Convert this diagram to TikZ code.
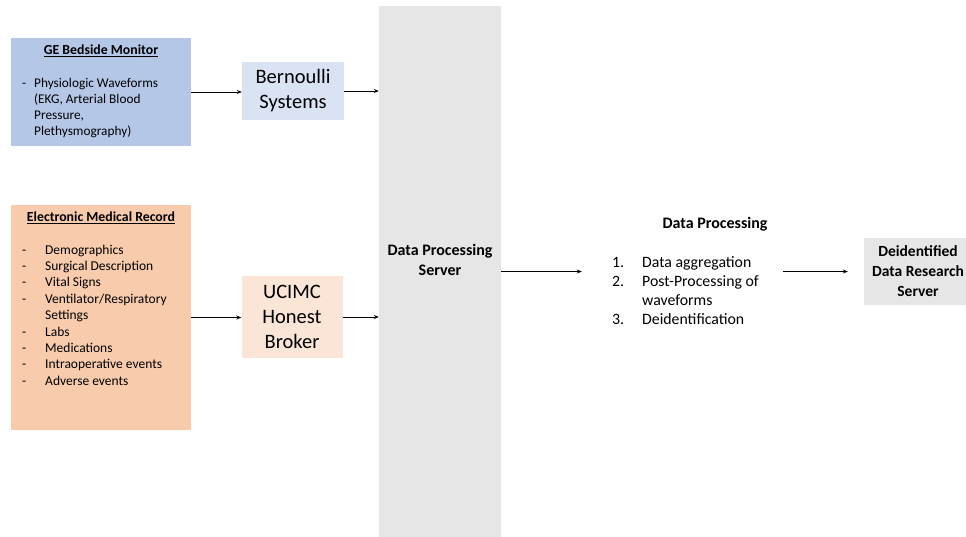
\documentclass[tikz,border=0pt]{standalone}
\usepackage{fontspec}
\setmainfont{Carlito}
\usetikzlibrary{arrows.meta, positioning, fit}

\definecolor{geblue}{HTML}{B4C7E7}
\definecolor{bernblue}{HTML}{DAE3F3}
\definecolor{emrorange}{HTML}{F8CBAD}
\definecolor{brokerorange}{HTML}{FBE5D6}
\definecolor{servergray}{HTML}{E7E6E6}

\begin{document}
\begin{tikzpicture}[x=1pt, y=-1pt,
        source/.style={rectangle, minimum width=180pt, inner sep=0pt},
        stage/.style={rectangle, align=center, inner sep=0pt, font=\fontsize{20.5}{25}\selectfont},
        server/.style={rectangle, fill=servergray, inner sep=0pt},
        title/.style={inner sep=0pt, anchor=base, font=\fontsize{13.8}{16}\selectfont\bfseries},
        items/.style={inner sep=0pt, anchor=north west, align=left},
        heading/.style={inner sep=0pt, align=center, font=\fontsize{16}{20}\selectfont\bfseries},
        arrow/.style={->, >={Stealth[length=5pt, width=4pt]}, line width=0.7pt}
    ]
        \clip (0,0) rectangle (966,536);

        % central server column
        \node[server, minimum width=122pt, minimum height=540pt] (server) at (440,276) {};
        \node[heading] (serverlbl) at (440,260) {Data Processing\\Server};

        % monitor branch
        \node[source, fill=geblue, minimum height=108pt] (ge) at (101,92) {};
        \node[title] (getitle) at (101,54.5) {\underline{GE Bedside Monitor}};
        \node[items, font=\fontsize{13.3}{16}\selectfont] (gelist) at (22,75.8) {%
            \begin{tabular}{@{}p{12pt}@{}l@{}}
            - & Physiologic Waveforms\\
              & (EKG, Arterial Blood\\
              & Pressure,\\
              & Plethysmography)
            \end{tabular}};
        \node[stage, fill=bernblue, minimum width=102pt, minimum height=58pt] (bern) at (293,91) {Bernoulli\\Systems};

        % record branch
        \node[source, fill=emrorange, minimum height=225pt] (emr) at (101,317.5) {};
        \node[title] (emrtitle) at (101,221.5) {\underline{Electronic Medical Record}};
        \node[items, font=\fontsize{13.5}{16.4}\selectfont] (emrlist) at (22,242.5) {%
            \begin{tabular}{@{}p{23pt}@{}l@{}}
            - & Demographics\\
            - & Surgical Description\\
            - & Vital Signs\\
            - & Ventilator/Respiratory\\
              & Settings\\
            - & Labs\\
            - & Medications\\
            - & Intraoperative events\\
            - & Adverse events
            \end{tabular}};
        \node[stage, fill=brokerorange, minimum width=101pt, minimum height=82pt] (broker) at (292,317) {UCIMC\\Honest\\Broker};

        % processing steps
        \node[heading] (proctitle) at (715,224) {Data Processing};
        \node[items, font=\fontsize{15.8}{19}\selectfont] (proclist) at (612,253.7) {%
            \begin{tabular}{@{}p{30pt}@{}l@{}}
            1. & Data aggregation\\
            2. & Post-Processing of\\
               & waveforms\\
            3. & Deidentification
            \end{tabular}};
        \node[fit=(proctitle)(proclist), inner sep=0pt] (proc) {};

        \node[server, heading, font=\fontsize{15.5}{20}\selectfont\bfseries, minimum width=108pt, minimum height=67pt] (deid) at (918,271.5) {Deidentified\\Data Research\\Server};

        \draw[arrow] (ge.east) -- (ge.east -| bern.west);
        \draw[arrow] (bern.east) -- (bern.east -| server.west);
        \draw[arrow] (emr.east) -- (emr.east -| broker.west);
        \draw[arrow] (broker.east) -- (broker.east -| server.west);
        \draw[arrow, shorten >=30pt] (server.east |- deid.west) -- (proc.west |- deid.west);
        \draw[arrow, shorten <=15pt, shorten >=16pt] (proc.east |- deid.west) -- (deid.west);
    \end{tikzpicture}
\end{document}
